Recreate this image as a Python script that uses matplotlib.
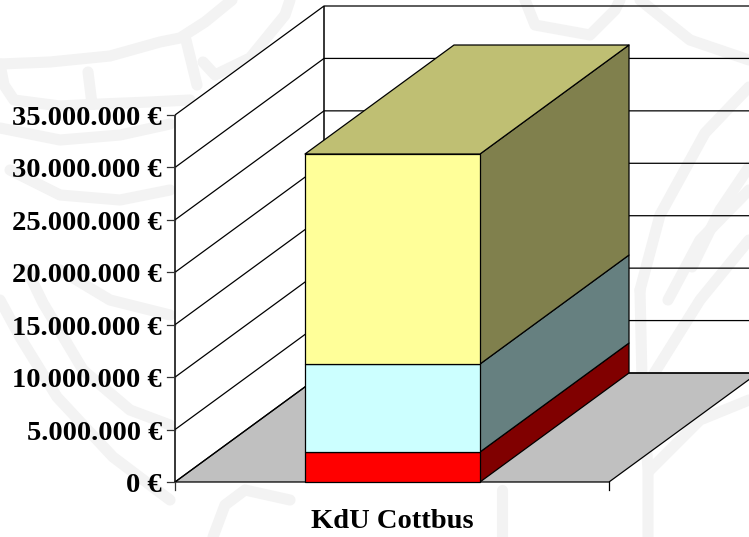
'''
Recreates the pseudo-3D stacked column chart for KdU Cottbus.
'''

import matplotlib
matplotlib.use('Agg')
import matplotlib.pyplot as plt
from matplotlib.patches import Polygon

category = 'KdU Cottbus'
tick_values = [0, 5000000, 10000000, 15000000, 20000000, 25000000, 30000000, 35000000]
tick_labels = ['0 €', '5.000.000 €', '10.000.000 €', '15.000.000 €', '20.000.000 €',
               '25.000.000 €', '30.000.000 €', '35.000.000 €']
series_values = [2860000, 8390000, 20030000]
front_colors = ['#ff0000', '#ccffff', '#ffff99']
side_colors = ['#800000', '#668080', '#80804d']
top_color = '#bfbf73'

# chart geometry in pixels of the picture
X_LEFT, X_RIGHT = 175, 609
BAR_LEFT, BAR_RIGHT = 305, 480
Y_ZERO = 482
PX_PER_EURO = 367 / 35000000
DEPTH_X, DEPTH_Y = 149, -109


def project(x, value, depth=0):
    # oblique projection: depth goes from 0 (front) to 1 (back)
    return x + DEPTH_X * depth, Y_ZERO - value * PX_PER_EURO + DEPTH_Y * depth


def face(ax, points, color, z):
    ax.add_patch(Polygon([project(*p) for p in points], closed=True, facecolor=color,
                         edgecolor='black', linewidth=0.9, joinstyle='round', zorder=z))


def line(ax, points, lw=0.9, z=3):
    xs, ys = zip(*[project(*p) for p in points])
    ax.plot(xs, ys, color='black', lw=lw, zorder=z, solid_capstyle='butt')


# rough strands of the pale background picture
watermark = [
    [(0, 64), (50, 62), (110, 56), (160, 42), (180, 38), (205, 22), (232, 0)],
    [(0, 64), (4, 85), (14, 100), (60, 106), (100, 104), (150, 102), (190, 100)],
    [(88, 72), (92, 104)],
    [(186, 40), (197, 85)],
    [(203, 62), (215, 75), (250, 58), (285, 15), (290, 0)],
    [(0, 128), (60, 140), (120, 135), (170, 124)],
    [(10, 170), (60, 195), (120, 200), (170, 190)],
    [(0, 300), (20, 337), (57, 397), (113, 457), (170, 500)],
    [(27, 270), (43, 303), (83, 370), (130, 410), (170, 425)],
    [(60, 270), (110, 300), (170, 315)],
    [(213, 537), (225, 505), (245, 490), (290, 500)],
    [(502, 490), (502, 537)],
    [(648, 537), (648, 470), (642, 380), (640, 290)],
    [(640, 290), (660, 215), (705, 133), (749, 87)],
    [(692, 267), (720, 210), (749, 167)],
    [(668, 300), (700, 240), (749, 190)],
    [(650, 380), (700, 300), (749, 240)],
    [(650, 470), (700, 420), (749, 400)],
    [(525, 0), (535, 25), (590, 35), (615, 10), (620, 0)],
    [(640, 0), (690, 40), (749, 60)],
]

fig = plt.figure(figsize=(7.49, 5.37), dpi=100)
ax = fig.add_axes([0, 0, 1, 1])
ax.set_xlim(0, 749)
ax.set_ylim(537, 0)
ax.axis('off')

for strand in watermark:
    xs, ys = zip(*strand)
    ax.plot(xs, ys, color='#f3f3f3', lw=8, zorder=0, solid_capstyle='round', solid_joinstyle='round')

top_value = tick_values[-1]

# left wall is white, floor is grey
ax.add_patch(Polygon([project(X_LEFT, 0), project(X_LEFT, top_value), project(X_LEFT, top_value, 1),
                      project(X_LEFT, 0, 1)], closed=True, facecolor='white', edgecolor='none', zorder=1))
face(ax, [(X_LEFT, 0, 0), (X_RIGHT, 0, 0), (X_RIGHT, 0, 1), (X_LEFT, 0, 1)], '#c0c0c0', 2)

# gridlines on the left and back walls
for value in tick_values:
    line(ax, [(X_LEFT, value, 0), (X_LEFT, value, 1), (X_RIGHT + 10, value, 1)])
line(ax, [(X_LEFT, 0, 1), (X_LEFT, top_value, 1)], lw=1.1)
line(ax, [(X_LEFT, 0, 0), (X_LEFT, top_value, 0)], lw=1.1)

# tick marks and labels
for value, label in zip(tick_values, tick_labels):
    x, y = project(X_LEFT, value)
    ax.plot([x - 8, x], [y, y], color='#333333', lw=0.9, zorder=3)
    ax.text(162, y + 3.5, label, ha='right', va='center', fontsize=20.5, fontweight='bold',
            family='Liberation Serif', color='black', zorder=5)
ax.plot([X_LEFT, X_LEFT], [Y_ZERO, Y_ZERO + 8], color='#333333', lw=0.9, zorder=3)
ax.plot([X_RIGHT, X_RIGHT], [Y_ZERO, Y_ZERO + 8], color='black', lw=0.9, zorder=3)

# stacked column: side faces, then front faces, then the top
bottom = 0
for value, front, side in zip(series_values, front_colors, side_colors):
    upper = bottom + value
    face(ax, [(BAR_RIGHT, bottom, 0), (BAR_RIGHT, upper, 0), (BAR_RIGHT, upper, 1), (BAR_RIGHT, bottom, 1)], side, 4)
    face(ax, [(BAR_LEFT, bottom, 0), (BAR_RIGHT, bottom, 0), (BAR_RIGHT, upper, 0), (BAR_LEFT, upper, 0)], front, 4)
    bottom = upper
face(ax, [(BAR_LEFT, bottom, 0), (BAR_RIGHT, bottom, 0), (BAR_RIGHT, bottom, 1), (BAR_LEFT, bottom, 1)], top_color, 4)

ax.text((BAR_LEFT + BAR_RIGHT) / 2, 521, category, ha='center', va='center', fontsize=20.5, fontweight='bold',
        family='Liberation Serif', color='black', zorder=5)

fig.savefig('out.png', dpi=100)
